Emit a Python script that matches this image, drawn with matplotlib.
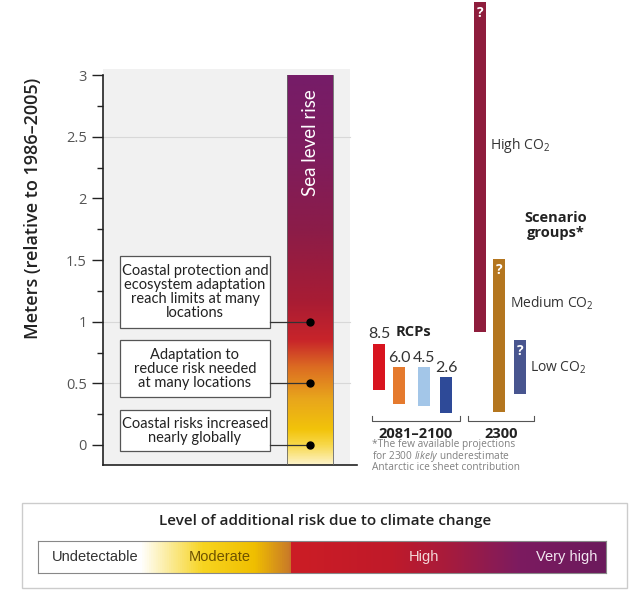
import numpy as np
import matplotlib.pyplot as plt
from matplotlib.colors import LinearSegmentedColormap
from matplotlib.patches import Rectangle

# ------------------------------------
# Data
# ------------------------------------

RCP_NAMES   = ['8.5', '6.0', '4.5', '2.6']
RCP_LOW     = [0.45, 0.33, 0.32, 0.26]
RCP_HIGH    = [0.82, 0.63, 0.63, 0.55]
RCP_COLORS  = ['#d8141f', '#e57a2e', '#a3c6e8', '#2e4a98']

SCEN_NAMES  = ['High CO$_2$', 'Medium CO$_2$', 'Low CO$_2$']
SCEN_LOW    = [0.92, 0.27, 0.41]
SCEN_HIGH   = [3.59, 1.51, 0.85]
SCEN_COLORS = ['#8e1d3c', '#b4761f', '#48558f']

RISK_LEVELS = [1.0, 0.5, 0.0]
RISK_TEXTS  = ['Coastal protection and\necosystem adaptation\nreach limits at many\nlocations',
               'Adaptation to\nreduce risk needed\nat many locations',
               'Coastal risks increased\nnearly globally']
RISK_BOXES  = [(0.949, 1.533), (0.389, 0.851), (-0.049, 0.284)]

YTICKS      = [0, 0.5, 1, 1.5, 2, 2.5, 3]
YTICKLABELS = ['0', '0.5', '1', '1.5', '2', '2.5', '3']

LEGEND_LABELS = ['Undetectable', 'Moderate', 'High', 'Very high']

# ------------------------------------
# Settings
# ------------------------------------

W, H = 631, 593
PX = 123.33            # pixels per metre on the value axis
NARROW = ['Lato', 'DejaVu Sans']
plt.rcParams['font.family'] = ['Open Sans', 'DejaVu Sans']
plt.rcParams['mathtext.fontset'] = 'custom'
plt.rcParams['mathtext.rm'] = 'Open Sans'
plt.rcParams['mathtext.it'] = 'Open Sans:italic'

sea_cmap = LinearSegmentedColormap.from_list('sea', [
    (0.0, '#fdf3c8'), (0.05, '#f8d84a'), (0.09, '#f2c30a'), (0.17, '#e8a51c'),
    (0.25, '#dc6c22'), (0.32, '#c8242a'), (0.42, '#a81c34'), (0.60, '#8c1c48'),
    (0.80, '#7e1c5e'), (1.0, '#761c68')])

risk_cmap = LinearSegmentedColormap.from_list('risk', [
    (0.0, '#ffffff'), (0.18, '#ffffff'), (0.29, '#f7d420'), (0.38, '#f0bf00'),
    (0.443, '#c97a28'), (0.447, '#cc1d25'), (0.62, '#c01a2a'), (0.72, '#a81c3c'),
    (0.85, '#7c1b60'), (1.0, '#6b1a5c')])


def py(p):
    # pixel row -> value on the metre axis
    return (445 - p) / PX

# ------------------------------------
# Main
# ------------------------------------

fig = plt.figure(figsize=(W / 100, H / 100), dpi=100)
fig.patch.set_facecolor('white')

YMIN, YMAX = py(465), py(0)
ax = fig.add_axes([103 / W, (H - 465) / H, (W - 103) / W, 465 / H])
ax.set_xlim(103, W)
ax.set_ylim(YMIN, YMAX)
ax.patch.set_alpha(0)

# grey panel and gridlines
ax.add_patch(Rectangle((103, YMIN), 247, 3.05 - YMIN, facecolor='#f1f1f1',
                       edgecolor='none', zorder=0))
for yv in [2.5, 1.0, 0.5]:
    ax.plot([103, 350], [yv, yv], color='#d8d8d8', lw=0.8, zorder=1)

# sea level rise bar
grad = np.linspace(0, 1, 256).reshape(-1, 1)
ax.imshow(grad, cmap=sea_cmap, extent=(287, 333, YMIN, 3.0), origin='lower',
          aspect='auto', zorder=2)
ax.plot([287, 287], [YMIN, 3.0], color='#666666', lw=0.6, zorder=3)
ax.plot([333, 333], [YMIN, 3.0], color='#666666', lw=0.6, zorder=3)
ax.text(310, 2.45, 'Sea level rise', rotation=90, color='white', fontsize=13.5,
        ha='center', va='center', family=NARROW, zorder=4)

# risk boxes with connectors
for lvl, txt, (b0, b1) in zip(RISK_LEVELS, RISK_TEXTS, RISK_BOXES):
    ax.add_patch(Rectangle((120, b0), 150, b1 - b0, facecolor='white',
                           edgecolor='#555555', lw=0.9, zorder=3))
    ax.text(195, (b0 + b1) / 2, txt, ha='center', va='center', fontsize=10.5,
            linespacing=1.0, color='#222222', family=NARROW, zorder=4)
    ax.plot([270, 310], [lvl, lvl], color='#333333', lw=0.9, zorder=4)
    ax.plot(310, lvl, 'o', color='black', ms=5, zorder=5)

# RCP bars (2081-2100)
rcp_x = [379, 399, 424, 446]
for x, lo, hi, c, name in zip(rcp_x, RCP_LOW, RCP_HIGH, RCP_COLORS, RCP_NAMES):
    ax.bar(x, hi - lo, bottom=lo, width=12, color=c, zorder=3)
    ax.text(x, hi + 0.02, name, ha='center', va='bottom', fontsize=11.5,
            color='#333333', family=NARROW, zorder=4)
ax.text(413, 0.92, 'RCPs', ha='center', va='center', fontsize=10.5,
        fontweight='bold', color='#222222', zorder=4)

# scenario group bars (2300)
scen_x = [480, 499, 520]
label_pos = [(490, 2.43), (510, 1.15), (530, 0.63)]
for x, lo, hi, c, name, (lx, ly) in zip(scen_x, SCEN_LOW, SCEN_HIGH, SCEN_COLORS,
                                        SCEN_NAMES, label_pos):
    ax.bar(x, hi - lo, bottom=lo, width=12, color=c, zorder=3)
    ax.text(x, hi - 0.09, '?', ha='center', va='center', fontsize=10,
            fontweight='bold', color='white', zorder=4)
    ax.text(lx, ly, name, ha='left', va='center', fontsize=10,
            color='#333333', zorder=4)
ax.text(556, 1.78, 'Scenario\ngroups*', ha='center', va='center', fontsize=10.5,
        fontweight='bold', color='#222222', linespacing=1.1, zorder=4)

# brackets
yb = py(421)
for x0, x1, lbl in [(372, 460, '2081–2100'), (468, 534, '2300')]:
    ax.plot([x0, x0, x1, x1], [yb + 0.04, yb, yb, yb + 0.04], color='#555555',
            lw=0.8, zorder=3)
    ax.text((x0 + x1) / 2, py(434), lbl, ha='center', va='center', fontsize=10.5,
            fontweight='bold', color='#222222', zorder=4)

foot = ['*The few available projections',
        'for 2300 $\\it{likely}$ underestimate',
        'Antarctic ice sheet contribution']
for i, line in enumerate(foot):
    ax.text(372, py(445 + 11.5 * i), line, ha='left', va='center', fontsize=7.3,
            color='#808080', zorder=4)

# axes styling
ax.spines['top'].set_visible(False)
ax.spines['right'].set_visible(False)
ax.spines['left'].set_bounds(YMIN, 3.0)
ax.spines['bottom'].set_bounds(103, 357)
for s in ['left', 'bottom']:
    ax.spines[s].set_linewidth(1.2)
    ax.spines[s].set_color('#222222')
ax.set_xticks([])
ax.set_yticks(YTICKS)
ax.set_yticklabels(YTICKLABELS, fontsize=10.5, color='#555555')
ax.set_yticks(np.arange(0.25, 3.0, 0.5), minor=True)
ax.tick_params(axis='y', which='major', length=8, width=1, color='#222222')
ax.tick_params(axis='y', which='minor', length=4, width=1, color='#222222')
ax.set_ylabel('Meters (relative to 1986–2005)', fontsize=13, fontweight='semibold',
              color='#222222')
ax.yaxis.set_label_coords((42 - 103) / (W - 103), (465 - 208) / 465)

# legend: level of additional risk
fig.patches.append(Rectangle((22 / W, 5 / H), 605 / W, 85 / H, transform=fig.transFigure,
                             facecolor='none', edgecolor='#cccccc', lw=1, zorder=-1))
fig.text(325 / W, 1 - 521 / H, 'Level of additional risk due to climate change',
         ha='center', va='center', fontsize=11, fontweight='semibold', color='#222222')
lax = fig.add_axes([38 / W, (H - 573) / H, 568 / W, 32 / H])
lax.imshow(np.linspace(0, 1, 512).reshape(1, -1), cmap=risk_cmap, aspect='auto',
           extent=(0, 1, 0, 1))
lax.set_xlim(0, 1)
lax.set_ylim(0, 1)
lax.set_xticks([])
lax.set_yticks([])
for s in lax.spines.values():
    s.set_color('#888888')
    s.set_linewidth(0.8)
leg_x = [0.1, 0.32, 0.68, 0.93]
leg_c = ['#333333', '#6e5200', '#f3d6d6', '#f2e6f0']
for lx, lbl, c in zip(leg_x, LEGEND_LABELS, leg_c):
    lax.text(lx, 0.5, lbl, ha='center', va='center', fontsize=10.5, color=c,
             family=['Liberation Sans', 'DejaVu Sans'])

fig.savefig('out.png', dpi=100)
